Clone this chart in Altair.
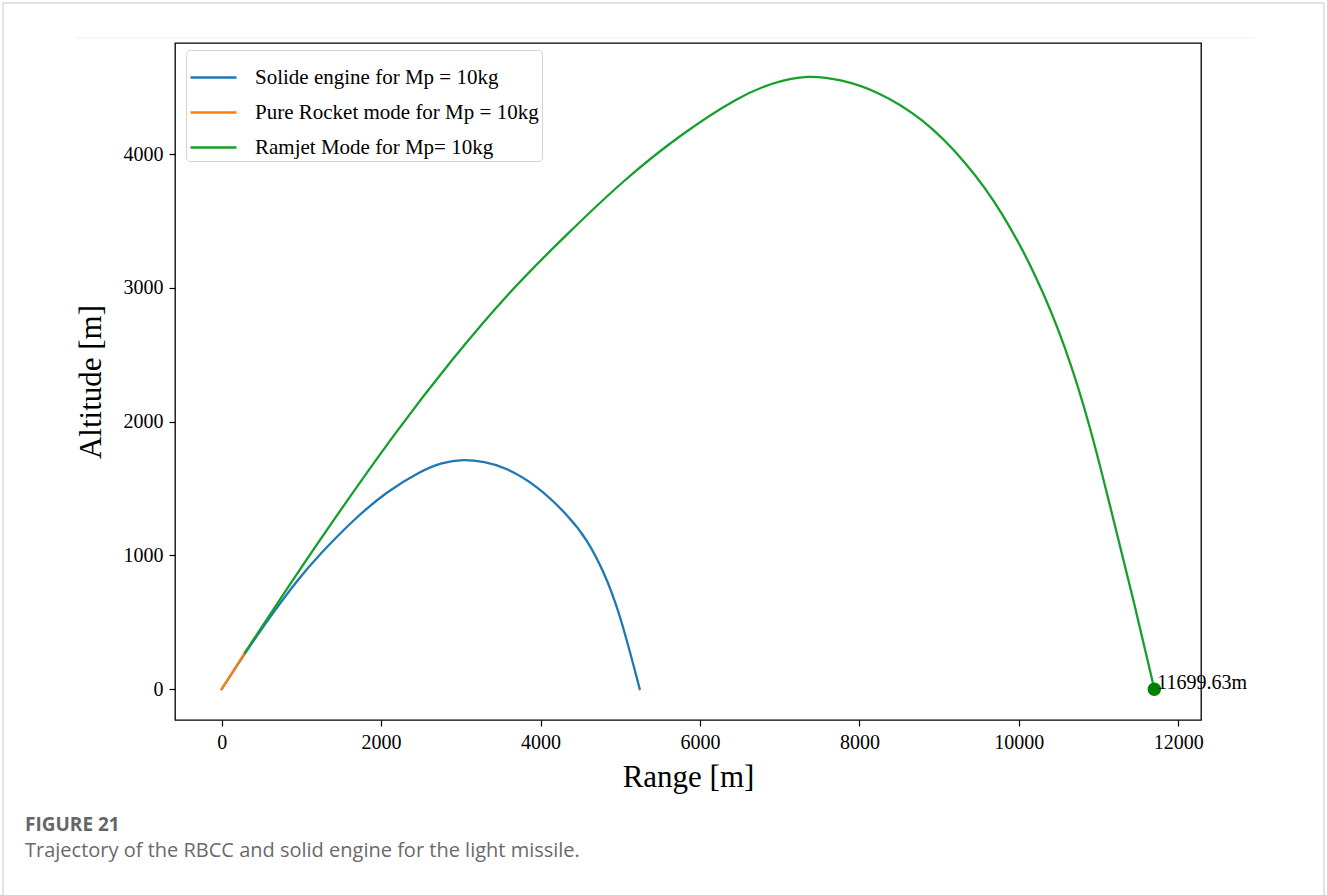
import altair as alt
import pandas as pd

# Series names and colours (legend order)
SERIES = [
    "Solide engine for Mp = 10kg",
    "Pure Rocket mode for Mp = 10kg",
    "Ramjet Mode for Mp= 10kg",
]
COLORS = ["#1f77b4", "#ff7f0e", "#14a02a"]

# Solid engine trajectory (range, altitude in m)
solid_x = [0, 288, 600, 947, 1239, 1656, 2073, 2490, 2760, 3032, 3300, 3533,
           3950, 4367, 4576, 4784, 4993, 5245]
solid_y = [0, 266, 535, 815, 1014, 1269, 1478, 1628, 1694, 1720, 1700, 1664,
           1528, 1285, 1125, 895, 575, 0]

# Pure rocket boost phase
rocket_x = [0, 292]
rocket_y = [0, 273]

# Ramjet mode trajectory
ramjet_x = [292, 945, 1528, 2175, 2894, 3612, 4330, 5049, 5767, 6486, 6917,
            7348, 7780, 8210, 8785, 9360, 9791, 10222, 10582, 10900, 11160,
            11430, 11699.63]
ramjet_y = [273, 866, 1371, 1917, 2470, 2975, 3400, 3810, 4151, 4429, 4536,
            4592, 4556, 4474, 4276, 3928, 3570, 3090, 2570, 1960, 1330,
            690, 0]

# Impact point of the ramjet trajectory
impact_x = 11699.63
impact_y = 0

X_TICKS = [0, 2000, 4000, 6000, 8000, 10000, 12000]
Y_TICKS = [0, 1000, 2000, 3000, 4000]

SERIF = "Liberation Serif"
SANS = "Open Sans"


def series_frame(xs, ys, name):
    return pd.DataFrame({"range": xs, "altitude": ys, "series": name})


x_scale = alt.Scale(domain=[-585, 12285], nice=False, zero=False)
y_scale = alt.Scale(domain=[-230, 4830], nice=False, zero=False)
color_scale = alt.Scale(domain=SERIES, range=COLORS)

x_axis = alt.Axis(
    title="Range [m]", values=X_TICKS, format="d", grid=False, domain=False,
    tickColor="black", tickSize=6, tickWidth=1.2, labelPadding=6,
    labelFont=SERIF, labelFontSize=20, labelColor="black",
    titleFont=SERIF, titleFontSize=31, titleFontWeight="normal",
    titleColor="black", titlePadding=10,
)
y_axis = alt.Axis(
    title="Altitude [m]", values=Y_TICKS, format="d", grid=False, domain=False,
    tickColor="black", tickSize=6, tickWidth=1.2, labelPadding=6,
    labelFont=SERIF, labelFontSize=20, labelColor="black",
    titleFont=SERIF, titleFontSize=31, titleFontWeight="normal",
    titleColor="black", titlePadding=16,
)
legend = alt.Legend(
    title=None, orient="none", legendX=11, legendY=7,
    symbolType="stroke", symbolSize=2116, symbolStrokeWidth=2.3,
    labelFont=SERIF, labelFontSize=21, labelColor="black", labelLimit=600,
    labelOffset=17, rowPadding=-3, padding=3,
    strokeColor="#d4d4d4", fillColor="white", cornerRadius=4,
)

enc = dict(
    x=alt.X("range:Q", scale=x_scale, axis=x_axis),
    y=alt.Y("altitude:Q", scale=y_scale, axis=y_axis),
    color=alt.Color("series:N", scale=color_scale, legend=legend),
)


def trajectory(df, interp):
    return alt.Chart(df).mark_line(
        strokeWidth=2.3, interpolate=interp, strokeCap="round"
    ).encode(**enc)


solid = trajectory(series_frame(solid_x, solid_y, SERIES[0]), "basis")
rocket = trajectory(series_frame(rocket_x, rocket_y, SERIES[1]), "linear")
ramjet = trajectory(series_frame(ramjet_x, ramjet_y, SERIES[2]), "basis")

impact_df = pd.DataFrame({
    "range": [impact_x], "altitude": [impact_y],
    "label": [f"{impact_x:.2f}m"],
})
impact_pt = alt.Chart(impact_df).mark_circle(size=180, color="#008000", opacity=1).encode(
    x=alt.X("range:Q", scale=x_scale), y=alt.Y("altitude:Q", scale=y_scale)
)
impact_lbl = alt.Chart(impact_df).mark_text(
    align="left", baseline="alphabetic", dx=3, font=SERIF, fontSize=20, color="black"
).encode(
    x=alt.X("range:Q", scale=x_scale), y=alt.Y("altitude:Q", scale=y_scale), text="label:N"
)

# Page furniture: outer card border, thin separator and figure caption
one = pd.DataFrame({"k": [0]})
card = alt.Chart(one).mark_rect(fill=None, stroke="#c8c8c8", strokeWidth=1).encode(
    x=alt.value(-172), x2=alt.value(1149), y=alt.value(-40), y2=alt.value(900)
)
separator = alt.Chart(one).mark_rule(color="#f0f0f0", strokeWidth=1).encode(
    x=alt.value(-100), x2=alt.value(1080), y=alt.value(-5)
)
fig_no = alt.Chart(one).mark_text(
    align="left", baseline="alphabetic", font=SANS, fontSize=19,
    fontWeight="bold", color="#666666", text="FIGURE 21"
).encode(x=alt.value(-150), y=alt.value(788))
caption = alt.Chart(one).mark_text(
    align="left", baseline="alphabetic", font=SANS, fontSize=20,
    color="#6a6a6a",
    text="Trajectory of the RBCC and solid engine for the light missile."
).encode(x=alt.value(-150), y=alt.value(814))

chart = alt.layer(
    card, separator, solid, rocket, ramjet, impact_pt, impact_lbl, fig_no, caption
).properties(
    width=1026, height=677,
    autosize=alt.AutoSizeParams(type="none"),
    padding={"left": 175, "top": 43, "right": 126, "bottom": 175},
    background="white",
).configure_view(stroke="black", strokeWidth=1.3)

chart.save("out.html", embed_options={"renderer": "svg", "actions": False})
